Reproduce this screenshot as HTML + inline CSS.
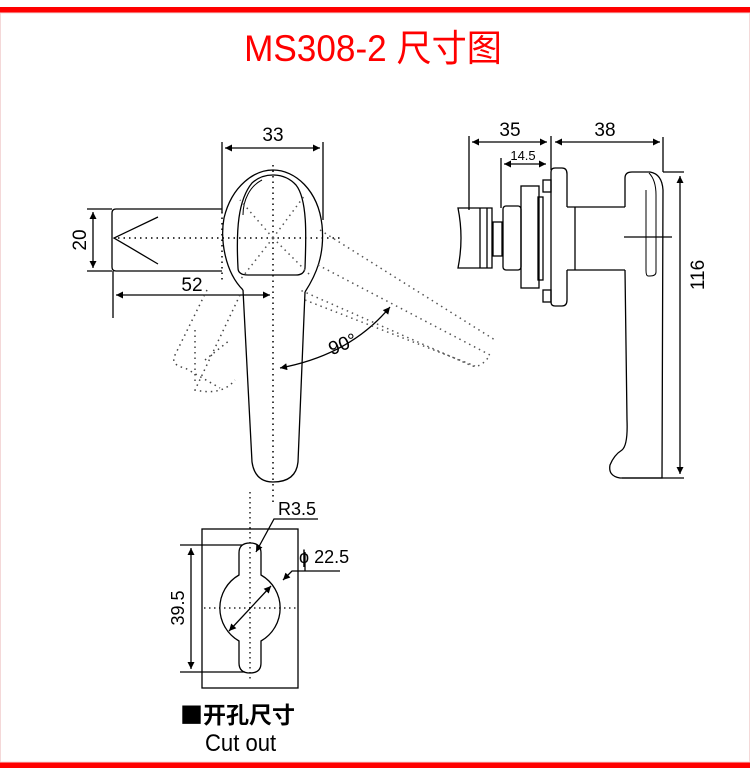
<!DOCTYPE html>
<html><head><meta charset="utf-8"><style>
html,body{margin:0;padding:0;background:#fff;}
body{width:750px;height:768px;overflow:hidden;position:relative;}
svg{position:absolute;left:0;top:0;}
</style></head><body>
<svg width="750" height="768" viewBox="0 0 750 768" xmlns="http://www.w3.org/2000/svg" font-family="'Liberation Sans','Noto Sans CJK SC',sans-serif">
<defs>
<marker id="a" viewBox="0 0 10 10" refX="10" refY="5" markerWidth="9" markerHeight="7" orient="auto-start-reverse" markerUnits="userSpaceOnUse"><path d="M0,0 L10,5 L0,10 z" fill="#000"/></marker>
</defs>
<rect x="0" y="7" width="750" height="6" fill="#ff0000"/>
<rect x="0" y="762" width="750" height="6" fill="#ff0000"/>
<rect x="0.5" y="13" width="749" height="749" fill="none" stroke="#f4d8d8" stroke-width="1"/>
<text x="373" y="61" text-anchor="middle" font-size="37" fill="#ff0000" transform="translate(373,0) scale(0.95,1) translate(-373,0)">MS308-2 尺寸图</text>

<g fill="none" stroke="#000" stroke-width="1.3">
<line x1="222" y1="142" x2="222" y2="212"/><line x1="323" y1="142" x2="323" y2="220"/>
<line x1="225" y1="148" x2="320" y2="148" marker-start="url(#a)" marker-end="url(#a)"/>
<path d="M116,209 H222 M116,271 H222 M116,209 Q112,209 112,213 V267 Q112,271 116,271"/>
<path d="M158,217 L114,238 L158,264"/>
<line x1="87" y1="209" x2="112" y2="209"/><line x1="87" y1="271" x2="112" y2="271"/>
<line x1="93" y1="212" x2="93" y2="268" marker-start="url(#a)" marker-end="url(#a)"/>
<line x1="113" y1="271" x2="113" y2="318"/>
<line x1="116" y1="295" x2="270" y2="295" marker-start="url(#a)" marker-end="url(#a)"/>
<path d="M243,290 C225,272 220,240 224,218 C232,185 255,170 273,170 C295,170 318,190 322,225 C325,255 316,275 305,292"/>
<path d="M238,268 C236,230 238,200 252,183 C264,172 284,172 296,185 C308,200 306,240 305,268 Q304,275 296,275 H248 Q238,275 238,268 Z"/>
<path d="M243,215 C243,200 250,186 262,180" stroke-width="1"/>
<path d="M243,290 L252,462 Q255,482 273,482 Q296,482 298,462 L305,292"/>
<path d="M280,368 Q350,355 390,307" marker-start="url(#a)" marker-end="url(#a)"/>
</g>
<g fill="none" stroke="#000" stroke-width="1.5" stroke-dasharray="1.5 4">
<line x1="273" y1="165" x2="273" y2="505"/>
<line x1="118" y1="238" x2="340" y2="238"/>
<line x1="222" y1="212" x2="222" y2="280"/>
<path d="M273,238 L240,200 M273,238 L305,195 M273,238 L240,280 M273,238 L310,275" stroke="#555"/>
<path d="M320,230 L495,340 M318,265 L490,355 Q480,370 470,365 L300,290 M305,300 L475,366" stroke="#555"/>
<path d="M207,290 L175,355 Q170,365 185,368 L220,388 M240,295 L195,390 Q222,396 235,380 M195,330 L195,385 M205,360 L230,340" stroke="#444"/>
</g>
<g font-size="19" fill="#000">
<text x="273" y="141" text-anchor="middle">33</text>
<text x="192" y="291" text-anchor="middle">52</text>
<text transform="translate(86,240) rotate(-90)" text-anchor="middle">20</text>
<text transform="translate(345,350) rotate(-22)" text-anchor="middle">90°</text>
</g>

<!-- right view -->
<g fill="none" stroke="#000" stroke-width="1.3">
<line x1="469" y1="136" x2="469" y2="210"/><line x1="551" y1="136" x2="551" y2="170"/><line x1="663" y1="137" x2="663" y2="172"/>
<line x1="472" y1="142" x2="547" y2="142" marker-start="url(#a)" marker-end="url(#a)"/>
<line x1="555" y1="142" x2="660" y2="142" marker-start="url(#a)" marker-end="url(#a)"/>
<line x1="501" y1="158" x2="501" y2="208"/>
<line x1="504" y1="164" x2="546" y2="164" marker-start="url(#a)" marker-end="url(#a)"/>
<path d="M458,208 H492 V268 H458 Q464,238 458,208 Z"/>
<line x1="480" y1="208" x2="480" y2="268"/><line x1="487" y1="208" x2="487" y2="268"/>
<rect x="493" y="222" width="9" height="34"/>
<rect x="503" y="206" width="18" height="64" rx="3"/>
<rect x="521" y="186" width="18" height="102"/>
<rect x="538" y="197" width="5" height="83"/>
<rect x="543" y="180" width="8" height="12"/><rect x="543" y="290" width="8" height="12"/>
<path d="M567,207 V174 Q567,168 562,168 H555 Q551,168 551,172 V302 Q551,306 555,306 H562 Q567,306 567,300 V270"/>
<path d="M567,207 H625 M567,270 H625"/>
<line x1="575" y1="207" x2="575" y2="270"/>
<path d="M625,207 V178 Q625,172 632,172 H650 Q662,174 663,190 L662,478 H620 Q608,476 610,465 Q614,455 622,450 Q628,445 627,420 L625,270"/>
<path d="M649,173 Q656,180 656,195 V272 Q656,276 650,276 H648 Q646,276 646,270 V190" stroke-width="1"/>
<line x1="663" y1="172" x2="684" y2="172"/><line x1="622" y1="478" x2="684" y2="478"/>
<line x1="624" y1="237" x2="672" y2="237"/>
<line x1="680" y1="176" x2="680" y2="474" marker-start="url(#a)" marker-end="url(#a)"/>
</g>
<g font-size="19" fill="#000">
<text x="510" y="136" text-anchor="middle">35</text>
<text x="605" y="136" text-anchor="middle">38</text>
<text x="523" y="160" text-anchor="middle" font-size="13">14.5</text>
<text transform="translate(704,275) rotate(-90)" text-anchor="middle">116</text>
</g>

<!-- cutout -->
<g fill="none" stroke="#000" stroke-width="1.3">
<rect x="202" y="529" width="96" height="159"/>
<path d="M239,553 Q239,543 250,543 Q261,543 261,553 V575 A38,38 0 0 1 261,641 V663 Q261,673 250,673 Q239,673 239,663 V641 A38,38 0 0 1 239,575 Z"/>
<line x1="180" y1="545" x2="242" y2="545"/><line x1="180" y1="672" x2="245" y2="672"/>
<line x1="191" y1="548" x2="191" y2="669" marker-start="url(#a)" marker-end="url(#a)"/>
<path d="M318,519 H274 L256,552" marker-end="url(#a)"/>
<path d="M340,571 H292 L283,580" marker-end="url(#a)"/>
<line x1="305" y1="552" x2="305" y2="571"/>
<line x1="229" y1="631" x2="271" y2="586" marker-start="url(#a)" marker-end="url(#a)"/>
</g>
<g fill="none" stroke="#000" stroke-width="1.3" stroke-dasharray="1.5 3.5">
<line x1="204" y1="608" x2="296" y2="608"/><line x1="250" y1="492" x2="250" y2="680"/>
</g>
<g font-size="18" fill="#000">
<text x="278" y="515">R3.5</text>
<text x="299" y="563">ϕ 22.5</text>
<text transform="translate(184,608) rotate(-90)" text-anchor="middle">39.5</text>
<text x="180" y="723" font-weight="bold" font-size="23" font-family="'Noto Sans CJK SC',sans-serif">■开孔尺寸</text>
<text x="205" y="751" font-size="24" transform="translate(205,0) scale(0.92,1) translate(-205,0)">Cut out</text>
</g>
</svg>
</body></html>
